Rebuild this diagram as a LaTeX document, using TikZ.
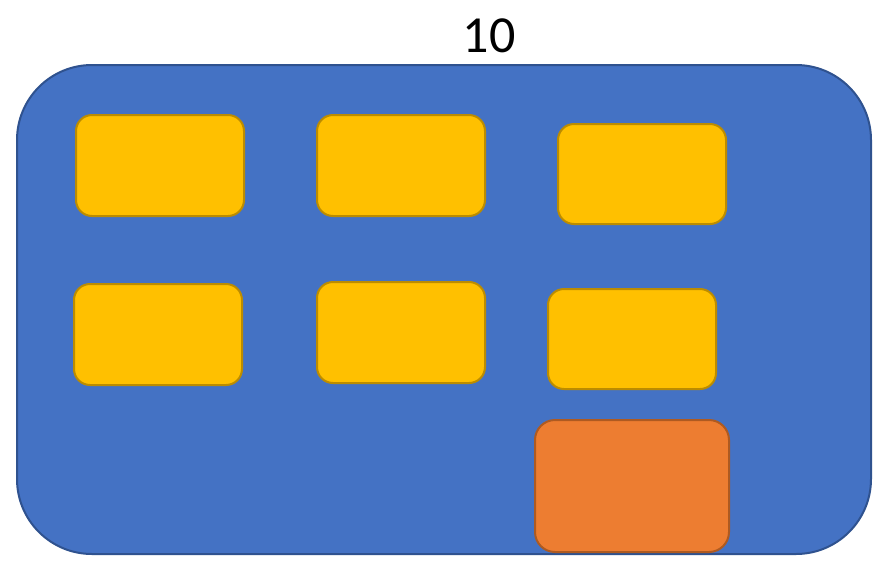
\documentclass[tikz,border=0pt]{standalone}
\usepackage{fontspec}
\setmainfont{Carlito}
\definecolor{bigfill}{HTML}{4472C4}
\definecolor{bigline}{HTML}{2F528F}
\definecolor{yfill}{HTML}{FFC000}
\definecolor{yline}{HTML}{BC8C00}
\definecolor{ofill}{HTML}{ED7D31}
\definecolor{oline}{HTML}{AE5A21}
\begin{document}
\begin{tikzpicture}[x=1pt,y=-1pt,
  outer/.style={draw=bigline,fill=bigfill,line width=2pt,rounded corners=75pt},
  ybox/.style={draw=yline,fill=yfill,line width=2pt,rounded corners=16pt},
  obox/.style={draw=oline,fill=ofill,line width=2pt,rounded corners=20pt}]
\useasboundingbox (0,0) rectangle (884,563);
\fill[white] (0,0) rectangle (884,563);
\draw[outer] (17,65) rectangle (871,554);
\node[anchor=center,inner sep=0pt] (title) at (489,36) {\fontsize{52}{62}\selectfont 10};
\draw[ybox] (76,115) rectangle (244,216);
\draw[ybox] (317,115) rectangle (485,216);
\draw[ybox] (558,124) rectangle (726,224);
\draw[ybox] (74,284) rectangle (242,385);
\draw[ybox] (317,282) rectangle (485,383);
\draw[ybox] (548,289) rectangle (716,389);
\draw[obox] (535,420) rectangle (729,552);
\end{tikzpicture}
\end{document}
